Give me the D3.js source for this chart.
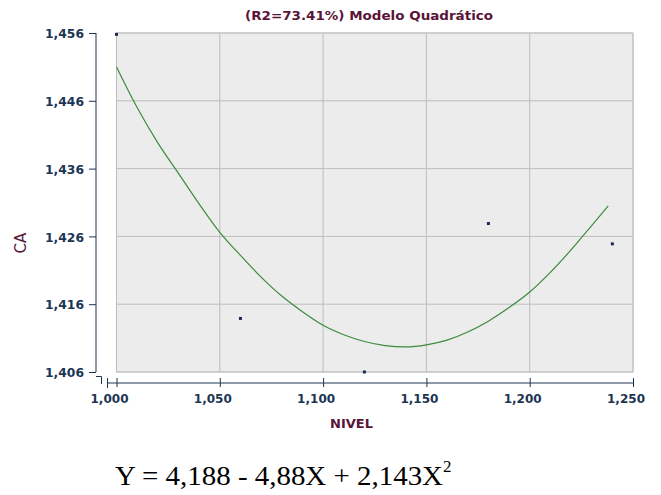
<!DOCTYPE html>
<html><head><meta charset="utf-8">
<script src="https://cdn.jsdelivr.net/npm/d3@7"></script>
<style>body{margin:0;background:#fff;}svg{display:block;}</style>
</head><body>
<script>
const yTicks = [1.406, 1.416, 1.426, 1.436, 1.446, 1.456];
const xTicks = [1.000, 1.050, 1.100, 1.150, 1.200, 1.250];
const pointX = [1.000, 1.060, 1.120, 1.180, 1.240];
const pointY = [1.4558, 1.4139, 1.4060, 1.4279, 1.4249];
const curveX = [1.00,1.01,1.02,1.03,1.04,1.05,1.06,1.07,1.08,1.09,1.10,1.11,1.12,1.13,1.14,1.15,1.16,1.17,1.18,1.19,1.20,1.21,1.22,1.23,1.238];
const curveY = [1.4510,1.4450,1.4398,1.4353,1.4308,1.4266,1.4232,1.4200,1.4172,1.4149,1.4129,1.4115,1.4105,1.4099,1.4097,1.4100,1.4107,1.4119,1.4135,1.4155,1.4178,1.4207,1.4240,1.4276,1.4305];
const titleText = "(R2=73.41%) Modelo Quadrático";
const yLabel = "CA", xLabel = "NIVEL";
const equationMain = "Y = 4,188 - 4,88X + 2,143X", equationSup = "2";

const W = 661, H = 495;
const svg = d3.select("body").append("svg").attr("width", W).attr("height", H);
const L = 116.5, R = 633, T = 33, B = 372;
const x = d3.scaleLinear().domain([1.0, 1.25]).range([L, R]);
const y = d3.scaleLinear().domain([1.406, 1.456]).range([B, T]);
const fmt = d => d3.format(".3f")(d).replace(".", ",");
const axisCol = "#1c3553", labCol = "#5a1438";
const sans = "'DejaVu Sans', Verdana, sans-serif";

// plot background
svg.append("rect").attr("x", L).attr("y", T).attr("width", R - L).attr("height", B - T)
  .attr("fill", "#ececec").attr("stroke", "#c8c8c8");
// grid
svg.append("g").selectAll("line").data(yTicks).join("line")
  .attr("x1", L).attr("x2", R).attr("y1", d => y(d)).attr("y2", d => y(d))
  .attr("stroke", "#bdbdbd").attr("stroke-width", 1);
svg.append("g").selectAll("line").data(xTicks).join("line")
  .attr("y1", T).attr("y2", B).attr("x1", d => x(d)).attr("x2", d => x(d))
  .attr("stroke", "#bdbdbd").attr("stroke-width", 1);

// y axis
const yAxis = d3.axisLeft(y).tickValues(yTicks).tickFormat(fmt).tickSize(7).tickPadding(5);
const gy = svg.append("g").attr("transform", "translate(96,0)").call(yAxis);
gy.select(".domain").attr("d", `M0,${T}V${B}`).attr("stroke", axisCol);
gy.selectAll(".tick line").attr("stroke", axisCol);
gy.selectAll("text").attr("fill", axisCol).attr("dy", "0.36em")
  .style("font", `bold 13px ${sans}`).attr("textLength", 39).attr("lengthAdjust", "spacingAndGlyphs");

// x axis
const xAxis = d3.axisBottom(x).tickValues(xTicks).tickFormat(fmt).tickSize(-5).tickPadding(13);
const gx = svg.append("g").attr("transform", "translate(0,383)").call(xAxis);
gx.select(".domain").attr("d", `M107,0H${R}`).attr("stroke", axisCol);
gx.selectAll(".tick line").attr("stroke", axisCol).attr("y1", 4).attr("y2", -5);
gx.selectAll("text").attr("fill", axisCol).attr("x", -7.5).attr("y", 11).attr("dy", "0.71em")
  .style("font", `bold 13px ${sans}`).attr("textLength", 38).attr("lengthAdjust", "spacingAndGlyphs");
// axis break marks
svg.append("path").attr("d", "M96,376.5H101.5V384 M107.5,378V388").attr("fill", "none").attr("stroke", axisCol);

// curve
svg.append("path").datum(curveX.map((d, i) => [d, curveY[i]]))
  .attr("d", d3.line().x(d => x(d[0])).y(d => y(d[1])).curve(d3.curveMonotoneX))
  .attr("fill", "none").attr("stroke", "#3c8c3c").attr("stroke-width", 1.2);

// points
svg.append("g").selectAll("rect").data(pointX).join("rect")
  .attr("x", (d) => x(d) - 1.5).attr("y", (d, i) => y(pointY[i]) - 1.5)
  .attr("width", 3).attr("height", 3).attr("fill", "#1a2a5a");

// titles
svg.append("text").attr("x", 245).attr("y", 20)
  .attr("fill", labCol).style("font", `bold 12px ${sans}`)
  .attr("textLength", 248).attr("lengthAdjust", "spacingAndGlyphs").text(titleText);
svg.append("text").attr("transform", "translate(25.5,243) rotate(-90)").attr("text-anchor", "middle")
  .attr("fill", labCol).style("font", `15px ${sans}`).text(yLabel);
svg.append("text").attr("x", 330).attr("y", 428)
  .attr("fill", labCol).style("font", `bold 13px ${sans}`)
  .attr("textLength", 43).attr("lengthAdjust", "spacingAndGlyphs").text(xLabel);

// equation
const eq = svg.append("text").attr("x", 115).attr("y", 485)
  .attr("fill", "#000").style("font", "27.5px 'Liberation Serif', 'Times New Roman', serif");
eq.append("tspan").attr("textLength", 328).attr("lengthAdjust", "spacingAndGlyphs").text(equationMain);
eq.append("tspan").attr("x", 443).attr("dy", -13).style("font-size", "17px").text(equationSup);
</script>
</body></html>
